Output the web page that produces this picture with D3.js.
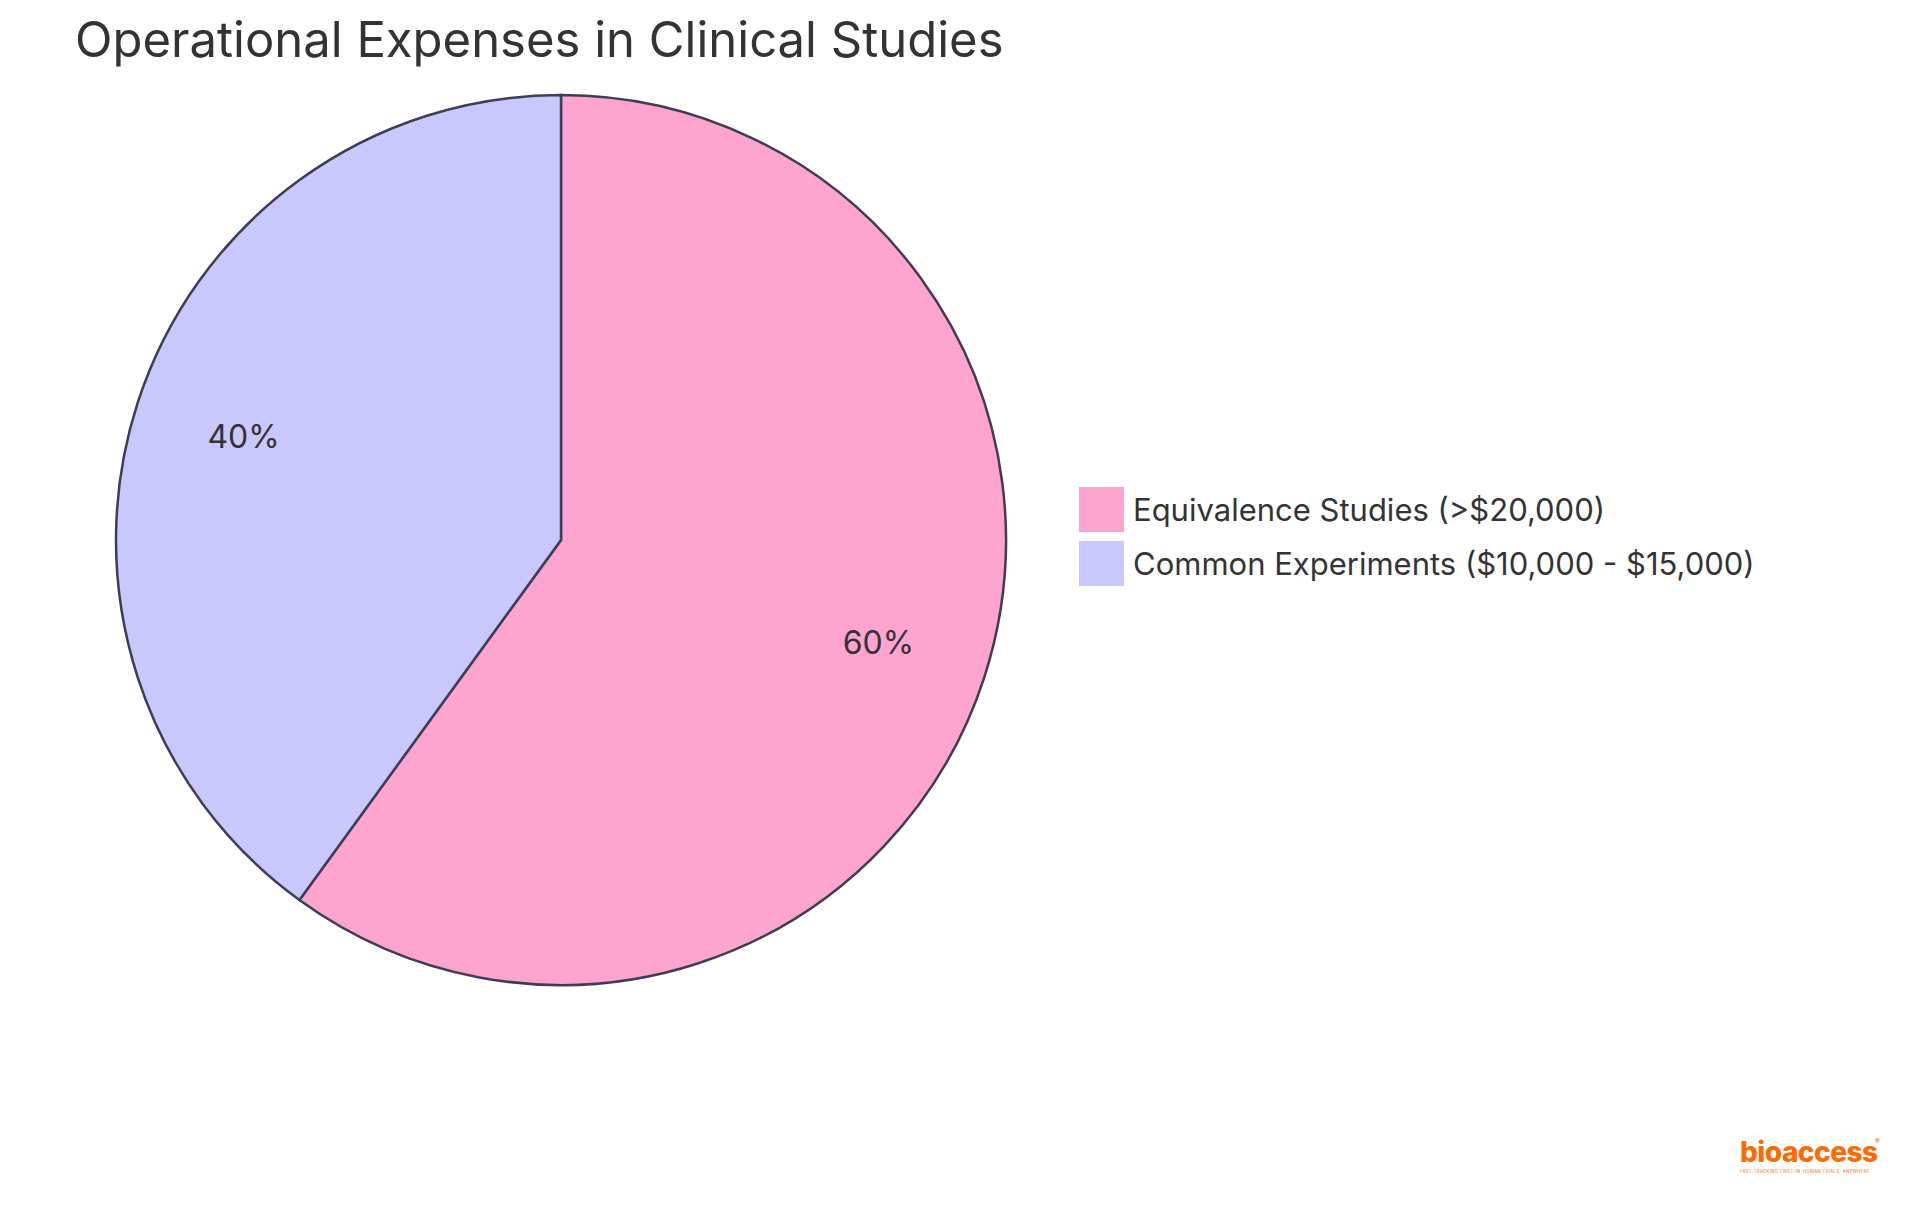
<!doctype html>
<html>
<head>
<meta charset="utf-8" />
<script src="https://cdnjs.cloudflare.com/ajax/libs/d3/7.8.5/d3.min.js"></script>
<style>
  body { margin:0; background:#fff; font-family:Inter, "Open Sans", sans-serif; }
</style>
</head>
<body>
<svg id="chart" width="1920" height="1215"></svg>
<script>
var labels = ["Equivalence Studies (>$20,000)", "Common Experiments ($10,000 - $15,000)"];
var values = [60, 40];
var colors = ["#ffa3cf", "#c8c8ff"];

var svg = d3.select("#chart");
var cx = 561, cy = 540, r = 445;

svg.append("text").attr("x", 75).attr("y", 57)
  .attr("font-size", 49).attr("fill", "#333").text("Operational Expenses in Clinical Studies");

var pie = d3.pie().sort(null).value(function(d) { return d; });
var arcs = pie(values);
var arc = d3.arc().innerRadius(0).outerRadius(r);
var labelArc = d3.arc().innerRadius(r * 0.75).outerRadius(r * 0.75);

var g = svg.append("g").attr("transform", "translate(" + cx + "," + cy + ")");
g.selectAll("path").data(arcs).enter().append("path")
  .attr("d", arc)
  .attr("fill", function(d, i) { return colors[i]; })
  .attr("stroke", "#3d3d55").attr("stroke-width", 2.5);

g.selectAll("text.lbl").data(arcs).enter().append("text")
  .attr("class", "lbl")
  .attr("transform", function(d) { return "translate(" + labelArc.centroid(d) + ")"; })
  .attr("text-anchor", "middle").attr("dy", "0.35em")
  .attr("font-size", 32).attr("fill", "#333")
  .text(function(d) { return d.data + "%"; });

var legend = svg.append("g").attr("transform", "translate(1079,487)");
var items = legend.selectAll("g").data(labels).enter().append("g")
  .attr("transform", function(d, i) { return "translate(0," + i * 54 + ")"; });
items.append("rect").attr("width", 45).attr("height", 45)
  .attr("fill", function(d, i) { return colors[i]; });
items.append("text").attr("x", 54).attr("y", 23).attr("dy", "0.35em")
  .attr("font-size", 31).attr("fill", "#333").text(function(d) { return d; });

var logo = svg.append("g").attr("transform", "translate(1740,1162)");
logo.append("text").attr("font-size", 28).attr("font-weight", 800)
  .attr("fill", "#ff6b00").attr("letter-spacing", -0.5).text("bioaccess");
logo.append("text").attr("x", 135).attr("y", -18).attr("font-size", 7)
  .attr("fill", "#ff6b00").text("®");
logo.append("text").attr("y", 11).attr("font-size", 4.2).attr("letter-spacing", 0.4)
  .attr("fill", "#ff6b00").text("FAST-TRACKING FIRST-IN-HUMAN TRIALS, ANYWHERE");
</script>
</body>
</html>
